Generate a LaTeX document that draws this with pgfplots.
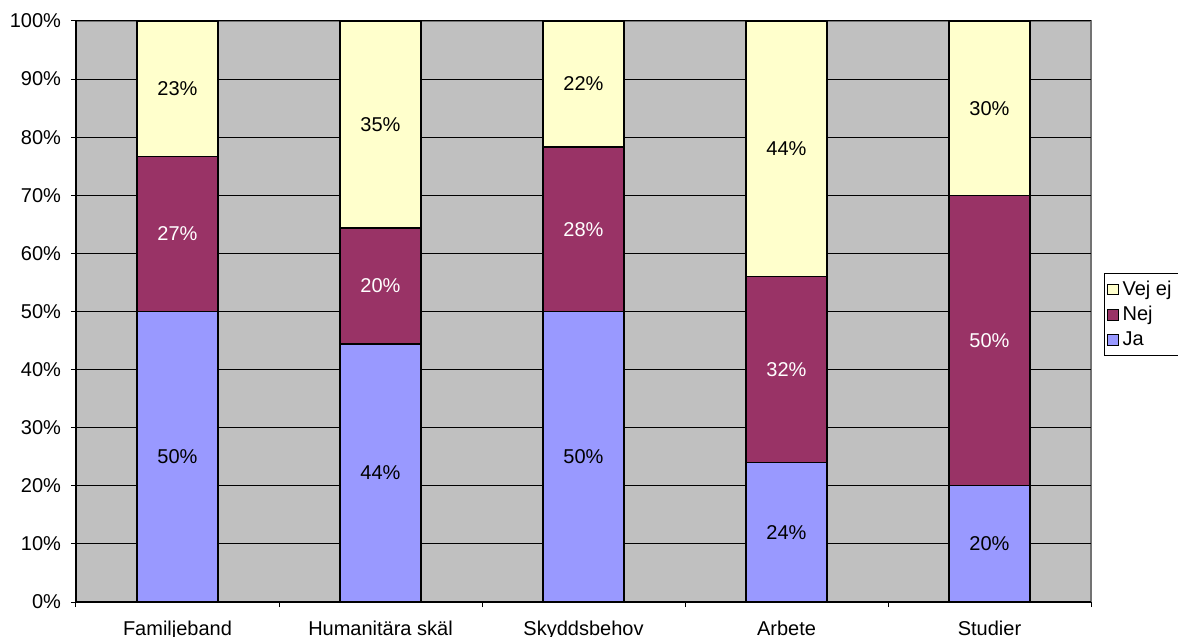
\documentclass[border=0pt]{standalone}
\usepackage{pgfplots}
\pgfplotsset{compat=1.18}
\usepackage{pgfplotstable}
\usepackage{fontspec}
\setmainfont{Liberation Sans}
\definecolor{bg}{HTML}{C0C0C0}
\definecolor{cja}{HTML}{9999FF}
\definecolor{cnej}{HTML}{993366}
\definecolor{cvej}{HTML}{FFFFCC}

\pgfplotstableread{
x ja nej vej
0 50   26.7 23.3
1 44.4 20.0 35.6
2 50   28.3 21.7
3 24   32   44
4 20   50   30
}\bars

\pgfplotstableread{
x jam jal nejm nejl vejm vejl
0 25   50\% 63.35 27\% 88.35 23\%
1 22.2 44\% 54.4  20\% 82.2  35\%
2 25   50\% 64.15 28\% 89.15 22\%
3 12   24\% 40    32\% 78    44\%
4 10   20\% 45    50\% 85    30\%
}\labels

\begin{document}
\begin{tikzpicture}
\begin{axis}[
  scale only axis, width=507.5pt, height=290.5pt,
  xmin=-0.5, xmax=4.5, ymin=0, ymax=100,
  ybar stacked, bar width=0.4,
  axis background/.style={fill=bg, draw=gray!90!black, line width=0.6pt},
  axis lines*=left, axis line style={-, black, line width=0.6pt},
  tick align=outside,
  major tick length=2.5pt,
  tick style={black, line width=0.5pt},
  xtick={-0.5,0.5,1.5,2.5,3.5,4.5},
  xticklabels={},
  extra x ticks={0,1,2,3,4},
  extra x tick labels={Familjeband, Humanitära skäl, Skyddsbehov, Arbete, Studier},
  extra x tick style={major tick length=0pt, xticklabel style={yshift=-6pt}},
  ytick={0,10,...,100},
  yticklabel={\pgfmathprintnumber{\tick}\%},
  ymajorgrids, grid style={black, line width=0.5pt},
  /pgf/number format/assume math mode=true,
  tick label style={font=\fontsize{10}{12}\selectfont},
  yticklabel style={xshift=-1.5pt},
  reverse legend,
  legend style={at={(1.0128,0.566)}, anchor=north west, draw=black, line width=0.4pt,
    font=\fontsize{10}{12}\selectfont, row sep=0pt, inner xsep=1.5pt, inner ysep=1.5pt,
    cells={anchor=west}},
  legend image code/.code={\draw[#1, draw=black, line width=0.4pt] (0pt,-2.6pt) rectangle (5.2pt,2.6pt);},
]
\addplot[fill=cja, draw=black, line width=0.7pt] table[x=x, y=ja] {\bars};
\addplot[fill=cnej, draw=black, line width=0.7pt] table[x=x, y=nej] {\bars};
\addplot[fill=cvej, draw=black, line width=0.7pt] table[x=x, y=vej] {\bars};
\legend{Ja, Nej, Vej ej}
\end{axis}
\begin{axis}[
  scale only axis, width=507.5pt, height=290.5pt,
  xmin=-0.5, xmax=4.5, ymin=0, ymax=100,
  hide axis,
  nodes near coords, point meta=explicit symbolic,
  every node near coord/.append style={anchor=center, font=\fontsize{10}{12}\selectfont},
]
\addplot[draw=none, mark=none, nodes near coords style={text=black}] table[x=x, y=jam, meta=jal] {\labels};
\addplot[draw=none, mark=none, nodes near coords style={text=white}] table[x=x, y=nejm, meta=nejl] {\labels};
\addplot[draw=none, mark=none, nodes near coords style={text=black}] table[x=x, y=vejm, meta=vejl] {\labels};
\end{axis}
\pgfresetboundingbox
\useasboundingbox (-38pt,-17.5pt) rectangle (551pt,301pt);
\end{tikzpicture}
\end{document}
